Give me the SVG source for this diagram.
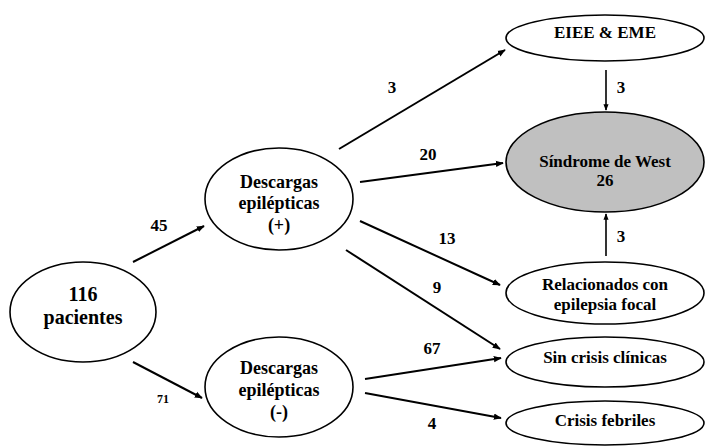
<svg xmlns="http://www.w3.org/2000/svg" width="705" height="446" viewBox="0 0 705 446">
  <defs>
    <marker id="arrow" viewBox="0 0 10 10" refX="9" refY="5" markerWidth="4" markerHeight="4" orient="auto" markerUnits="strokeWidth">
      <path d="M0,1 L10,5 L0,9 z" fill="#000000"/>
    </marker>
  </defs>

  <rect x="0" y="0" width="705" height="446" fill="#ffffff"/>

  <!-- connectors -->
  <g id="connectors" stroke="#000000" stroke-width="2" fill="none" marker-end="url(#arrow)">
    <line x1="133" y1="262" x2="204" y2="226"/>
    <line x1="133" y1="362" x2="202" y2="398"/>
    <line x1="339" y1="149" x2="505" y2="50"/>
    <line x1="360" y1="182" x2="503" y2="163"/>
    <line x1="360" y1="221" x2="500" y2="285"/>
    <line x1="346" y1="250" x2="500" y2="349"/>
    <line x1="365" y1="379" x2="501" y2="358"/>
    <line x1="365" y1="393" x2="501" y2="418"/>
    <line stroke-width="1.6" x1="606" y1="70" x2="606" y2="110"/>
    <line stroke-width="1.6" x1="606" y1="256" x2="606" y2="214"/>
  </g>

  <!-- connector labels -->
  <g id="labels">
    <text x="159" y="231" font-family="Liberation Serif" font-weight="bold" font-size="17" text-anchor="middle">45</text>
    <text x="163" y="403" font-family="Liberation Serif" font-weight="bold" font-size="12" text-anchor="middle">71</text>
    <text x="392" y="93" font-family="Liberation Serif" font-weight="bold" font-size="17" text-anchor="middle">3</text>
    <text x="428" y="160" font-family="Liberation Serif" font-weight="bold" font-size="17" text-anchor="middle">20</text>
    <text x="447" y="244" font-family="Liberation Serif" font-weight="bold" font-size="17" text-anchor="middle">13</text>
    <text x="437" y="293" font-family="Liberation Serif" font-weight="bold" font-size="17" text-anchor="middle">9</text>
    <text x="432" y="354" font-family="Liberation Serif" font-weight="bold" font-size="17" text-anchor="middle">67</text>
    <text x="432" y="429" font-family="Liberation Serif" font-weight="bold" font-size="17" text-anchor="middle">4</text>
    <text x="621" y="93" font-family="Liberation Serif" font-weight="bold" font-size="17" text-anchor="middle">3</text>
    <text x="621" y="242" font-family="Liberation Serif" font-weight="bold" font-size="17" text-anchor="middle">3</text>
  </g>

  <g id="n-pacientes">
    <ellipse cx="83" cy="312" rx="73" ry="50" fill="#ffffff" stroke="#000000" stroke-width="1.6"/>
    <text x="83" y="301" font-family="Liberation Serif" font-weight="bold" font-size="20" text-anchor="middle">116</text>
    <text x="83" y="324" font-family="Liberation Serif" font-weight="bold" font-size="20" text-anchor="middle">pacientes</text>
  </g>

  <g id="n-descargas-pos">
    <ellipse cx="279" cy="199" rx="74" ry="51" fill="#ffffff" stroke="#000000" stroke-width="1.6"/>
    <text x="279" y="188" font-family="Liberation Serif" font-weight="bold" font-size="18" text-anchor="middle">Descargas</text>
    <text x="279" y="209" font-family="Liberation Serif" font-weight="bold" font-size="18" text-anchor="middle">epilépticas</text>
    <text x="279" y="231" font-family="Liberation Serif" font-weight="bold" font-size="18" text-anchor="middle">(+)</text>
  </g>

  <g id="n-descargas-neg">
    <ellipse cx="279" cy="387" rx="74" ry="50" fill="#ffffff" stroke="#000000" stroke-width="1.6"/>
    <text x="279" y="374" font-family="Liberation Serif" font-weight="bold" font-size="18" text-anchor="middle">Descargas</text>
    <text x="279" y="396" font-family="Liberation Serif" font-weight="bold" font-size="18" text-anchor="middle">epilépticas</text>
    <text x="279" y="418" font-family="Liberation Serif" font-weight="bold" font-size="18" text-anchor="middle">(-)</text>
  </g>

  <g id="n-eiee">
    <ellipse cx="605" cy="38" rx="99" ry="23" fill="#ffffff" stroke="#000000" stroke-width="1.6"/>
    <text x="605" y="38" font-family="Liberation Serif" font-weight="bold" font-size="17" text-anchor="middle">EIEE &amp; EME</text>
  </g>

  <g id="n-west">
    <ellipse cx="605" cy="162" rx="99" ry="50" fill="#c0c0c0" stroke="#000000" stroke-width="1.6"/>
    <text x="605" y="167" font-family="Liberation Serif" font-weight="bold" font-size="17" text-anchor="middle">Síndrome de West</text>
    <text x="605" y="186" font-family="Liberation Serif" font-weight="bold" font-size="17" text-anchor="middle">26</text>
  </g>

  <g id="n-focal">
    <ellipse cx="605" cy="293" rx="99" ry="31" fill="#ffffff" stroke="#000000" stroke-width="1.6"/>
    <text x="605" y="290" font-family="Liberation Serif" font-weight="bold" font-size="17" text-anchor="middle">Relacionados con</text>
    <text x="605" y="310" font-family="Liberation Serif" font-weight="bold" font-size="17" text-anchor="middle">epilepsia focal</text>
  </g>

  <g id="n-sin-crisis">
    <ellipse cx="605" cy="362" rx="99" ry="25" fill="#ffffff" stroke="#000000" stroke-width="1.6"/>
    <text x="605" y="363" font-family="Liberation Serif" font-weight="bold" font-size="17" text-anchor="middle">Sin crisis clínicas</text>
  </g>

  <g id="n-febriles">
    <ellipse cx="605" cy="423" rx="99" ry="22" fill="#ffffff" stroke="#000000" stroke-width="1.6"/>
    <text x="605" y="426" font-family="Liberation Serif" font-weight="bold" font-size="17" text-anchor="middle">Crisis febriles</text>
  </g>
</svg>
